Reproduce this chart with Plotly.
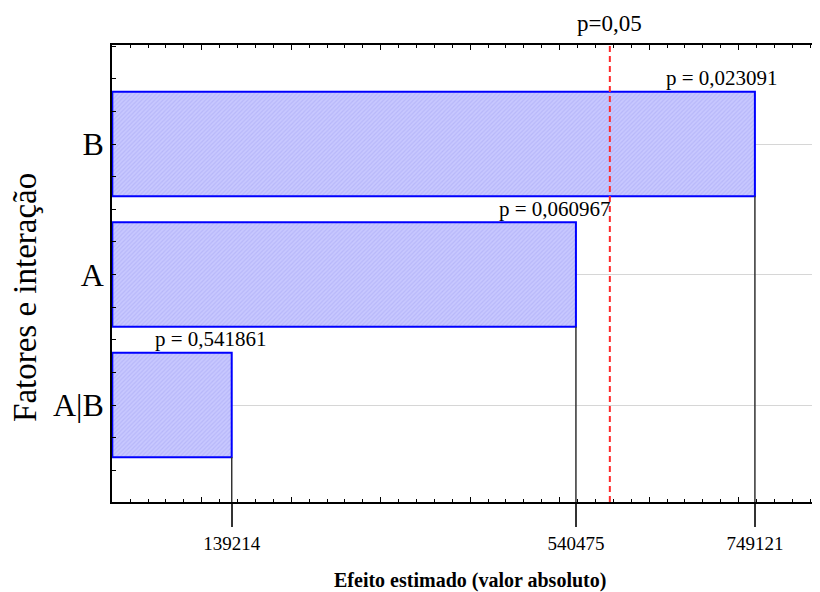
import plotly.graph_objects as go

# ---- data ----
factors = ["A|B", "A", "B"]
effects = [139214, 540475, 749121]
p_labels = ["p = 0,541861", "p = 0,060967", "p = 0,023091"]
p_crit_value = 580000
p_crit_label = "p=0,05"
x_title = "Efeito estimado (valor absoluto)"
y_title = "Fatores e interação"

# ---- style ----
FONT = "Liberation Serif, Times New Roman, serif"
label_xshift = [-21, -21, -33]
y_index = list(range(len(factors)))
x_range = [-350, 825000]
y_range = [-0.743, 2.759]

fig = go.Figure()

fig.add_trace(go.Bar(
    x=effects, y=y_index, orientation="h", width=0.8,
    marker=dict(
        color="#c4c4ff",
        line=dict(color="#0000ff", width=2),
        pattern=dict(shape="/", size=3, solidity=0.4,
                     fgcolor="#a6a6f4", bgcolor="#c8c8ff"),
    ),
    showlegend=False, hoverinfo="skip",
))

# invisible traces for the extra tick axes
fig.add_trace(go.Scatter(x=[0], y=[0], xaxis="x2", mode="markers",
                         marker=dict(opacity=0), showlegend=False, hoverinfo="skip"))
fig.add_trace(go.Scatter(x=[0], y=[0], xaxis="x3", mode="markers",
                         marker=dict(opacity=0), showlegend=False, hoverinfo="skip"))

shapes = []
for v, yi in zip(effects, y_index):
    shapes.append(dict(type="line", xref="x", yref="y", x0=v, x1=v,
                       y0=yi - 0.4, y1=y_range[0],
                       line=dict(color="#333333", width=1.5)))
shapes.append(dict(type="line", xref="x", yref="paper", x0=p_crit_value, x1=p_crit_value,
                   y0=0, y1=1, line=dict(color="#ff2a2a", width=2, dash="6px,4px")))

annotations = []
for v, yi, t, dx in zip(effects, y_index, p_labels, label_xshift):
    annotations.append(dict(x=v, y=yi, xref="x", yref="y", text=t, showarrow=False,
                            xanchor="center", yanchor="middle", xshift=dx, yshift=66,
                            font=dict(family=FONT, size=21, color="black")))
annotations.append(dict(x=p_crit_value, y=1, xref="x", yref="paper", text=p_crit_label,
                        showarrow=False, xanchor="center", yanchor="middle", yshift=22,
                        font=dict(family=FONT, size=23, color="black")))
annotations.append(dict(x=0.5056, y=-0.1707, xref="paper", yref="paper",
                        text="<b>" + x_title + "</b>",
                        showarrow=False, xanchor="center", yanchor="middle",
                        font=dict(family=FONT, size=20, color="black")))
annotations.append(dict(x=-0.1229, y=0.4486, xref="paper", yref="paper", text=y_title,
                        showarrow=False, xanchor="center", yanchor="middle", textangle=-90,
                        font=dict(family=FONT, size=33, color="black")))

tick_common = dict(tickmode="linear", tick0=0, dtick=104300, ticks="inside", ticklen=5,
                   tickcolor="black", tickwidth=1, showticklabels=False, showgrid=False,
                   zeroline=False,
                   minor=dict(tickmode="linear", tick0=0, dtick=20860, ticks="inside",
                              ticklen=3, tickcolor="black", tickwidth=1, showgrid=False))

fig.update_layout(
    width=812, height=584,
    margin=dict(l=104, r=0, t=37, b=90, autoexpand=False),
    paper_bgcolor="white", plot_bgcolor="white",
    shapes=shapes, annotations=annotations,
    xaxis=dict(range=x_range, tickmode="array", tickvals=effects,
               ticktext=[str(v) for v in effects],
               ticks="outside", ticklen=23, tickcolor="#333333", tickwidth=1.5,
               tickfont=dict(family=FONT, size=19, color="black"),
               showline=True, linecolor="black", linewidth=1.5,
               showgrid=False, zeroline=False, automargin=False),
    xaxis2=dict(overlaying="x", side="top", anchor="y", matches="x",
                showline=True, linecolor="black", linewidth=1.5, **tick_common),
    xaxis3=dict(overlaying="x", side="bottom", anchor="y", matches="x",
                showline=False, **tick_common),
    yaxis=dict(range=y_range, tickmode="array", tickvals=y_index, ticktext=factors,
               ticks="inside", ticklen=4, tickcolor="black", tickwidth=1,
               tickfont=dict(family=FONT, size=32, color="black"),
               showline=True, linecolor="black", linewidth=1.5, automargin=False,
               showgrid=True, gridcolor="#d6d6d6", gridwidth=1, zeroline=False,
               minor=dict(tickmode="linear", tick0=0, dtick=0.25, ticks="inside",
                          ticklen=4, tickcolor="black", tickwidth=1, showgrid=False)),
    bargap=0.2,
)

fig.write_html("out.html")
